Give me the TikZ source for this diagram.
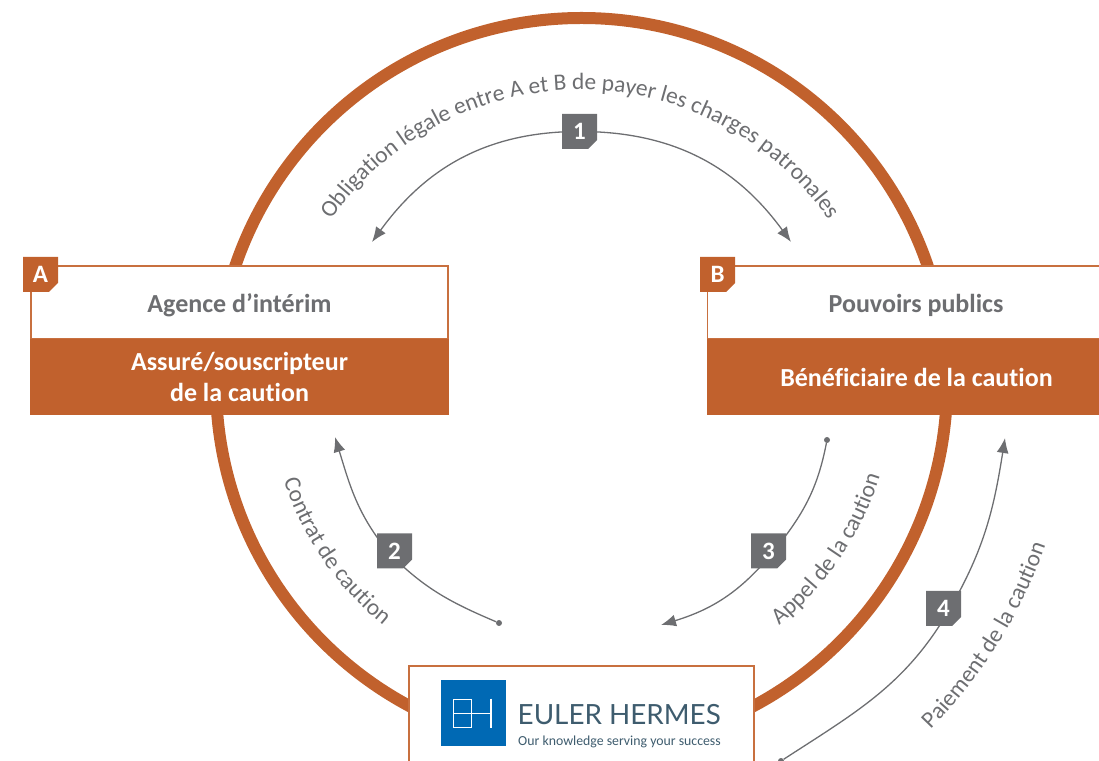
\documentclass[tikz,border=0pt]{standalone}
\usepackage{fontspec}
\setmainfont{Open Sans}
\newfontfamily\boxfont[Ligatures=NoCommon]{Carlito}
\newfontfamily\logofont{Lato}
\usetikzlibrary{arrows.meta,backgrounds,decorations.text}
\definecolor{rust}{HTML}{C1612D}
\definecolor{rustline}{HTML}{C8703F}
\definecolor{slate}{HTML}{6D6E71}
\definecolor{logoblue}{HTML}{0069B4}
\definecolor{logotext}{HTML}{3E5C6E}
\newcommand{\curvefont}{\boxfont\fontsize{23.4}{24}\selectfont\color{slate}}
\tikzset{
    tag/.style={minimum size=35pt,inner sep=0pt,text=white,
        font=\boxfont\bfseries\fontsize{25}{25}\selectfont,
        path picture={\fill[#1] (path picture bounding box.south west)
            -- (path picture bounding box.north west)
            -- (path picture bounding box.north east)
            -- ([yshift=9pt]path picture bounding box.south east)
            -- ([xshift=-9pt]path picture bounding box.south east) -- cycle;}},
    party/.style={draw=rustline,line width=1.8pt,fill=white,minimum width=417pt,minimum height=73pt,
        text=slate,text height=26pt,text depth=5pt,font=\boxfont\bfseries\fontsize{26}{26}\selectfont},
    role/.style={fill=rust,minimum width=419pt,minimum height=76pt,align=center,text=white,
        font=\boxfont\bfseries\fontsize{26}{31}\selectfont},
    flow/.style={draw=slate,line width=1.3pt},
    flowtip/.style={flow,-{Latex[length=15pt,width=12pt]}},
    enddot/.style={circle,fill=slate,inner sep=0pt,minimum size=6pt},
    curvetext/.style={decorate,decoration={text along path,text align=center,text={|\curvefont|#1}}}
}
\begin{document}
\begin{tikzpicture}[x=1pt,y=1pt]
    \useasboundingbox (0,0) rectangle (1099,760);
    \clip (0,0) rectangle (1099,760);
    \draw[rust,line width=12pt] (581.5,376.5) circle[radius=365.5];

    \node[party] (agence) at (239.5,457.5) {Agence d’intérim};
    \node[role] (assure) at (239.5,383) {Assuré/souscripteur\\de la caution};
    \node[party] (pouvoirs) at (916,457.5) {Pouvoirs publics};
    \node[role] (benef) at (916.5,383) {Bénéficiaire de la caution};
    \node[tag=rust] (tagA) at (40.5,485.5) {A};
    \node[tag=rust] (tagB) at (717.5,485.5) {B};

    \node[draw=rustline,line width=1.8pt,fill=white,minimum width=345pt,minimum height=110pt] (euler) at (581.5,39) {};
    \node[fill=logoblue,minimum width=65pt,minimum height=66pt,inner sep=0pt] (logo) at (473.5,47) {};
    \draw[white,line width=1.1pt] (453.5,60.7) rectangle (471.7,32.7);
    \draw[white,line width=1.1pt] (453.5,46.7) -- (491,46.7);
    \draw[white,line width=2.6pt] (491,61.5) -- (491,32);
    \node[anchor=base west,inner sep=0pt,text=logotext,font=\logofont\fontsize{27.8}{28}\selectfont] (eulername) at (517.5,36) {EULER HERMES};
    \node[anchor=base west,inner sep=0pt,text=logotext,font=\boxfont\fontsize{13.8}{14}\selectfont] (eulerline) at (518,14.5) {Our knowledge serving your success};

    \node[tag=slate] (step1) at (579.5,628.5) {1};
    \node[tag=slate] (step2) at (394.5,209) {2};
    \node[tag=slate] (step3) at (768.5,209) {3};
    \node[tag=slate] (step4) at (943.5,151.5) {4};

    \coordinate (tip1l) at (372,518);
    \coordinate (tip1r) at (791,518);
    \coordinate (tip2) at (335,323);
    \coordinate (tip3) at (661,135);
    \coordinate (tip4) at (1005,322);
    \coordinate (via2) at (390,206);
    \coordinate (via3) at (773,208);
    \coordinate (via4) at (950,151.5);
    \node[enddot] (dot2) at (499,137) {};
    \node[enddot] (dot3) at (827,320) {};
    \node[enddot] (dot4) at (781,-1) {};

    \begin{pgfonlayer}{background}
        \draw[flowtip] (step1.center) to[out=180,in=54] (tip1l);
        \draw[flowtip] (step1.center) to[out=0,in=126] (tip1r);
        \draw[flow] (dot2) to[out=157,in=-45] (via2);
        \draw[flowtip] (via2) to[out=130,in=-73] (tip2);
        \draw[flow] (dot3) to[out=259,in=51] (via3);
        \draw[flowtip] (via3) to[out=231,in=17] (tip3);
        \draw[flow] (dot4) to[out=33,in=240] (via4);
        \draw[flowtip] (via4) to[out=60,in=261] (tip4);
    \end{pgfonlayer}

    \path[curvetext={Obligation légale entre A et B de payer les charges patronales}] (580,367) ++(170:303) arc[start angle=170,end angle=10,radius=303];
    \path[curvetext={Contrat de caution}] (581,377) ++(180:313) arc[start angle=180,end angle=249,radius=313];
    \path[curvetext={Appel de la caution}] (581,377) ++(291:313) arc[start angle=291,end angle=361,radius=313];
    \path[curvetext={Paiement de la caution}] (581,377) ++(298:492) arc[start angle=298,end angle=358,radius=492];
\end{tikzpicture}
\end{document}
